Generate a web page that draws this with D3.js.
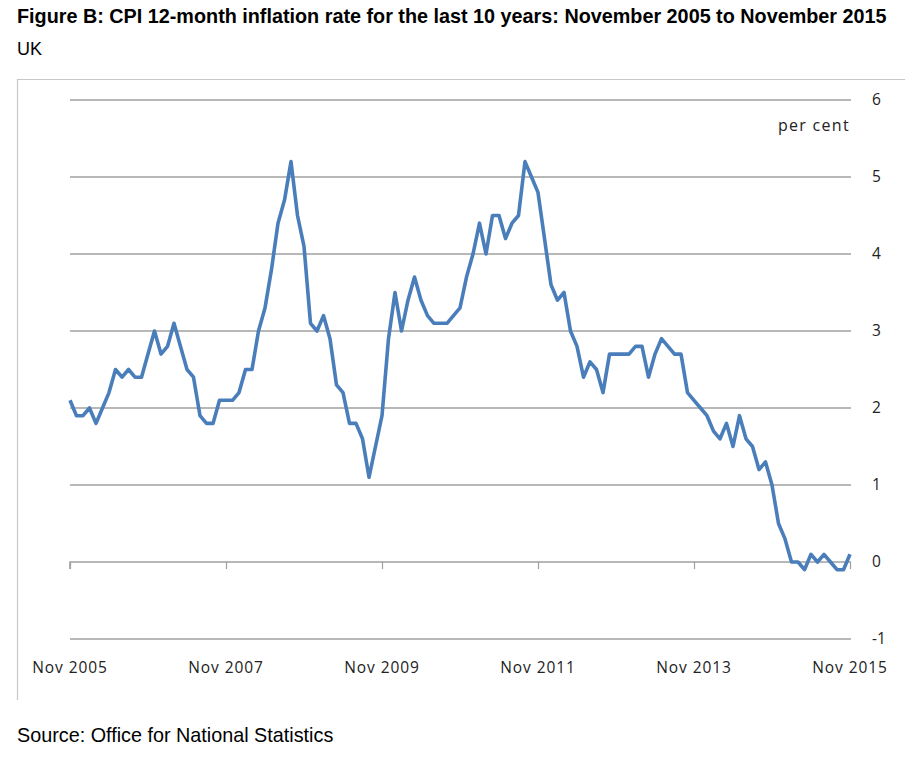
<!DOCTYPE html>
<html>
<head>
<meta charset="utf-8">
<script src="https://cdn.jsdelivr.net/npm/d3@7"></script>
<style>
body { margin: 0; background: #fff; }
svg { display: block; }
</style>
</head>
<body>
<script>
// ---- data ----
const cpi = [
  2.1, 1.9,
  1.9, 2.0, 1.8, 2.0, 2.2, 2.5, 2.4, 2.5, 2.4, 2.4, 2.7, 3.0,
  2.7, 2.8, 3.1, 2.8, 2.5, 2.4, 1.9, 1.8, 1.8, 2.1, 2.1, 2.1,
  2.2, 2.5, 2.5, 3.0, 3.3, 3.8, 4.4, 4.7, 5.2, 4.5, 4.1, 3.1,
  3.0, 3.2, 2.9, 2.3, 2.2, 1.8, 1.8, 1.6, 1.1, 1.5, 1.9, 2.9,
  3.5, 3.0, 3.4, 3.7, 3.4, 3.2, 3.1, 3.1, 3.1, 3.2, 3.3, 3.7,
  4.0, 4.4, 4.0, 4.5, 4.5, 4.2, 4.4, 4.5, 5.2, 5.0, 4.8, 4.2,
  3.6, 3.4, 3.5, 3.0, 2.8, 2.4, 2.6, 2.5, 2.2, 2.7, 2.7, 2.7,
  2.7, 2.8, 2.8, 2.4, 2.7, 2.9, 2.8, 2.7, 2.7, 2.2, 2.1, 2.0,
  1.9, 1.7, 1.6, 1.8, 1.5, 1.9, 1.6, 1.5, 1.2, 1.3, 1.0, 0.5,
  0.3, 0.0, 0.0, -0.1, 0.1, 0.0, 0.1, 0.0, -0.1, -0.1, 0.1
];
const yTicks = [-1, 0, 1, 2, 3, 4, 5, 6];
const xTickIdx = [0, 24, 48, 72, 96, 120];
const xTickLabels = ["Nov 2005", "Nov 2007", "Nov 2009", "Nov 2011", "Nov 2013", "Nov 2015"];
const titleText = "Figure B: CPI 12-month inflation rate for the last 10 years: November 2005 to November 2015";
const subtitleText = "UK";
const unitText = "per cent";
const sourceText = "Source: Office for National Statistics";

// ---- layout ----
const W = 916, H = 757;
const svg = d3.select("body").append("svg").attr("width", W).attr("height", H);

svg.append("text").attr("x", 17).attr("y", 23)
  .attr("font-family", "Liberation Sans, Arial, sans-serif")
  .attr("font-size", 19.8).attr("font-weight", "bold").attr("fill", "#000")
  .text(titleText);
svg.append("text").attr("x", 17).attr("y", 55)
  .attr("font-family", "Liberation Sans, Arial, sans-serif")
  .attr("font-size", 18).attr("fill", "#000")
  .text(subtitleText);
svg.append("text").attr("x", 17).attr("y", 742)
  .attr("font-family", "Liberation Sans, Arial, sans-serif")
  .attr("font-size", 19.8).attr("fill", "#000")
  .text(sourceText);

// frame
svg.append("path").attr("d", "M17.5,700 L17.5,79.5 L905,79.5")
  .attr("fill", "none").attr("stroke", "#c8c8c8").attr("stroke-width", 1.2);

const x = d3.scaleLinear().domain([0, cpi.length - 1]).range([70, 850]);
const y = d3.scaleLinear().domain([-1, 6]).range([639, 100]);

const labelFont = "Open Sans, DejaVu Sans, sans-serif";

// gridlines
svg.append("g").selectAll("line").data(yTicks.filter(d => d !== 0)).join("line")
  .attr("x1", 70).attr("x2", 851)
  .attr("y1", d => y(d)).attr("y2", d => y(d))
  .attr("stroke", "#a0a0a0").attr("stroke-width", 1.6);

// right axis labels
const yAxis = d3.axisRight(y).tickValues(yTicks).tickSize(0).tickPadding(21)
  .tickFormat(d => String(d));
const ya = svg.append("g").attr("transform", "translate(851,0)").call(yAxis);
ya.select(".domain").remove();
ya.selectAll("text").attr("font-family", labelFont).attr("font-size", 15.5).attr("fill", "#222");

// zero axis with ticks
const xAxis = d3.axisBottom(x).tickValues(xTickIdx).tickSize(7).tickFormat("");
const xa = svg.append("g").attr("transform", `translate(0,${y(0)})`).call(xAxis);
xa.select(".domain").attr("stroke", "#a0a0a0").attr("stroke-width", 1.6)
  .attr("d", `M${x(0)},7V0H851`);
xa.selectAll(".tick line").attr("stroke", "#a0a0a0").attr("stroke-width", 1.2);

// x labels
svg.append("g").selectAll("text").data(xTickIdx).join("text")
  .attr("x", d => x(d)).attr("y", 673)
  .attr("text-anchor", "middle")
  .attr("font-family", labelFont).attr("font-size", 15.5)
  .attr("letter-spacing", 0.9).attr("fill", "#222")
  .text((d, i) => xTickLabels[i]);

// unit label
svg.append("text").attr("x", 850).attr("y", 131).attr("text-anchor", "end")
  .attr("font-family", labelFont).attr("font-size", 16)
  .attr("letter-spacing", 1.3).attr("fill", "#222")
  .text(unitText);

// line
const line = d3.line().x((d, i) => x(i)).y(d => y(d));
svg.append("path").datum(cpi).attr("d", line)
  .attr("fill", "none").attr("stroke", "#4a7ebb").attr("stroke-width", 3.6)
  .attr("stroke-linejoin", "round").attr("stroke-linecap", "butt");
</script>
</body>
</html>
